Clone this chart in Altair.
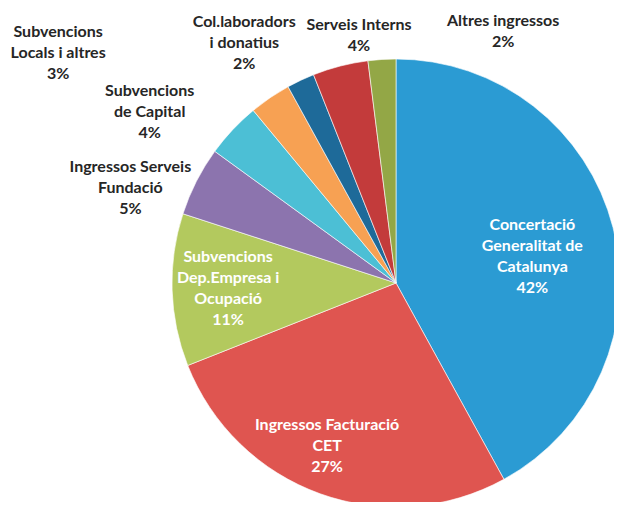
import altair as alt
import pandas as pd

# ---- data ----
labels = [
    "Concertació\nGeneralitat de\nCatalunya",
    "Ingressos Facturació\nCET",
    "Subvencions\nDep.Empresa i\nOcupació",
    "Ingressos Serveis\nFundació",
    "Subvencions\nde Capital",
    "Subvencions\nLocals i altres",
    "Col.laboradors\ni donatius",
    "Serveis Interns",
    "Altres ingressos",
]
values = [42, 27, 11, 5, 4, 3, 2, 4, 2]

# ---- styles / layout ----
slice_colors = ["#2b9bd3", "#df5550", "#b3c95e", "#8c74ae", "#4cbfd5",
                "#f7a153", "#1e6a99", "#c33b3b", "#93a746"]
text_colors = ["#ffffff", "#ffffff", "#ffffff", "#262626", "#262626",
               "#262626", "#262626", "#262626", "#262626"]
label_radius = [139, 177, 168, 282, 300, 409, 284, 250, 273]
label_turn_deg = [3.2, 3.1, -0.2, -7.4, -8.4, -21.5, -7.1, 5.9, 26.7]

CX, CY, R = 388, 275, 224
LH = 21

df = pd.DataFrame({
    "idx": list(range(len(values))),
    "label": labels,
    "value": values,
    "color": slice_colors,
    "tcolor": text_colors,
    "lr": label_radius,
    "turn": label_turn_deg,
})

base = alt.Chart(df)

pie = base.mark_arc(outerRadius=R, stroke="#ffffff", strokeWidth=1,
                    strokeOpacity=0.6).encode(
    theta=alt.Theta("value:Q", stack=True),
    color=alt.Color("color:N", scale=None),
    order=alt.Order("idx:Q"),
    x=alt.value(CX),
    y=alt.value(CY),
)

text = base.transform_joinaggregate(
    total="sum(value)"
).transform_window(
    cum="sum(value)", sort=[alt.SortField("idx")], frame=[None, 0]
).transform_calculate(
    ang="2*PI*(datum.cum - datum.value/2)/datum.total + datum.turn*PI/180",
    txt="datum.label + '\\n' + datum.value + '%'",
).transform_calculate(
    nlines="length(split(datum.txt, '\\n'))",
).transform_calculate(
    px=f"{CX} + datum.lr*sin(datum.ang)",
    py=f"{CY} - datum.lr*cos(datum.ang) - (datum.nlines-1)*{LH}/2",
).mark_text(
    font="Lato", fontWeight="bold", fontSize=16, lineHeight=LH,
    lineBreak="\n", align="center", baseline="middle",
).encode(
    x=alt.X("px:Q", scale=None),
    y=alt.Y("py:Q", scale=None),
    text="txt:N",
    color=alt.Color("tcolor:N", scale=None),
)

chart = alt.layer(pie, text).properties(
    width=606, height=494, autosize=alt.AutoSizeParams(type="none"), padding=0
).configure_view(stroke=None)

chart.save("out.html", embed_options={"renderer": "svg", "actions": False})
